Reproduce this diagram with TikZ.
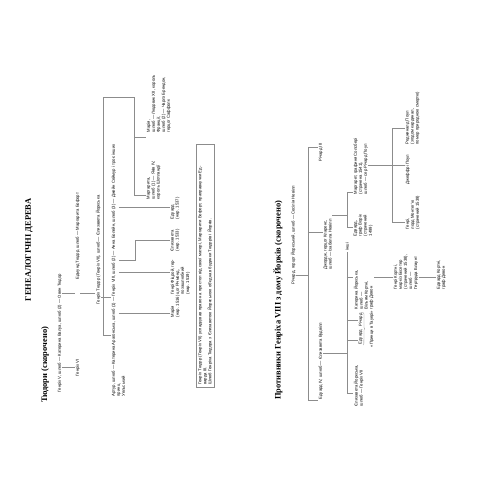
\documentclass[tikz,border=0pt]{standalone}
\usepackage{fontspec}
\setmainfont{Liberation Serif}
\setsansfont{Liberation Sans}
\usetikzlibrary{decorations.pathreplacing}

\tikzset{
  pers/.style={font=\sffamily\fontsize{6}{7.2}\selectfont, inner sep=0.8pt, align=left, anchor=north west},
  ttl/.style={font=\bfseries\fontsize{12}{14}\selectfont, inner sep=0pt},
  conn/.style={draw=black!45, line width=0.45pt}
}

\begin{document}
\begin{tikzpicture}[x=0.05cm, y=0.05cm, rotate=90, transform shape]
\useasboundingbox (0,0) rectangle (500,500);
% Titles
\node[ttl] (main) at (250,471) {ГЕНЕАЛОГІЧНІ ДЕРЕВА};
\node[ttl, anchor=west] (tud) at (97,455) {Тюдори (скорочено)};
\node[ttl, anchor=west] (york) at (100,222) {Противники Генріха VIII з дому Йорків (скорочено)};

% Tudors
\node[pers] (hv) at (107,443) {Генріх V, шлюб — Катерина Валуа, шлюб (2) — Овен Тюдор};
\node[pers] (hvi) at (123,425) {Генріх VI};
\node[pers] (edm) at (220,425) {Едмунд Тюдор, шлюб — Маргарита Бофорт};
\node[pers] (hvii) at (195,405) {Генріх Тюдор (Генріх VII), шлюб — Єлизавета Йоркська};
\node[pers] (hviii) at (103,389) {Артур, шлюб — Катерина Арагонська, шлюб (1) — Генріх VIII, шлюб (2) — Анна Болейн, шлюб (3) — Джейн Сеймур і троє інших\\принц\\Уельський};
\node[pers] (maryt) at (182,330) {Марія\\(нар. 1516)};
\node[pers] (fitz) at (205,330) {Генрі Фіцрой, гер-\\цог Річмонд,\\позашлюбний\\(нар. 1519)};
\node[pers] (eliz) at (248,330) {Єлизавета\\(нар. 1533)};
\node[pers] (edw) at (280,330) {Едуард\\(нар. 1537)};
\node[pers] (marg) at (300,354) {Маргарита,\\шлюб (1) — Яків IV,\\король Шотландії};
\node[pers] (marys) at (367,354) {Марія,\\шлюб — Людовик XII, король\\Франції,\\шлюб (2) — Чарлз Брендон,\\герцог Саффолк};
% note box
\node[pers, draw=black!45, line width=0.45pt, text width=11.9cm, inner sep=3pt] (note) at (113,304) {Генріх Тюдор (Генріх VII) успадкував право на престол від своєї матері, Маргарити Бофорт, праправнучки Ед-\\варда III.\\Шлюб Генріха Тюдора з Єлизаветою Йоркською об’єднав будинки Тюдорів і Йорків.};

\coordinate (c1) at (133,0);
\coordinate (c2) at (207,0);
\coordinate (c3) at (203,0);
\coordinate (bl) at (165,397);
\coordinate (br) at (403,397);
\coordinate (bd) at (403,366);
\coordinate (bm) at (363,366);
\coordinate (bg) at (305,366);
\coordinate (k1) at (187,381);
\coordinate (k2) at (228,381);
\coordinate (k3) at (240,381);
\coordinate (k3b) at (260,365);
\coordinate (k4) at (293,381);
% Edges
\draw[conn] (hv.south -| c1) -- (hvi.north -| c1);
\draw[conn] (hv.south -| c2) -- (edm.north -| c2);
\draw[conn] (edm.south -| c2) -- (hvii.north -| c2);
\draw[conn] (hvii.south -| c3) -- (hviii.north -| c3);
\draw[conn] (hviii.north -| bl) -- (bl) -- (br) -- (bd) -- (bg) -- (marg.north -| bg);
\draw[conn] (bm) -- (marys.north -| bm);
\draw[conn] (k1) -- (maryt.north -| k1);
\draw[conn] (k2) -- (fitz.north -| k2);
\draw[conn] (k3) -- (k3 |- k3b) -- (k3b) -- (eliz.north -| k3b);
\draw[conn] (k4) -- (edw.north -| k4);

% Yorks
\node[pers] (rich) at (215,210) {Річард, герцог Йоркський, шлюб — Сесілія Невілл};
\node[pers] (ediv) at (100,182) {Едуард IV, шлюб — Єлизавета Вудвілл};
\node[pers] (geo) at (230,177) {Джордж, герцог Кларенс,\\шлюб — Ізабелла Невілл};
\node[pers] (riii) at (338,182) {Річард III};
\node[pers] (eyork) at (93,147) {Єлизавета Йоркська,\\шлюб — Генріх VII};
\node[pers] (edv) at (155,142) {Едуард};
\node[pers] (rch) at (173,142) {Річард};
\node[pers] (kath) at (190,147) {Катерина Йоркська,\\шлюб —\\Вільям Кортні,\\граф Девон};
\node[pers, anchor=west] (oth) at (249,153) {інші};
\node[pers] (warw) at (263,147) {Едвард,\\граф Ворік\\(страчений\\1499)};
\node[pers] (sal) at (305,147) {Маргарет, графиня Солсбері\\(страчена 1541),\\шлюб — сер Річард Поул};
\node[pers] (hcou) at (210,107) {Генрі Кортні,\\маркіз Ексетер\\(страчений 1538),\\шлюб —\\Гертруда Блаунт};
\node[pers] (ecou) at (210,64) {Едвард Кортні,\\граф Девон};
\node[pers] (mont) at (270,95) {Генрі,\\лорд Монтег’ю\\(страчений 1539)};
\node[pers] (geof) at (315,95) {Джеффрі Поул};
\node[pers] (reg) at (355,95) {Реджиналд Поул\\(згодом кардинал,\\помер природною смертю)};
\node[pers, anchor=north] (tow) at (171,131) {«Принци в Тауері»};

\coordinate (y1) at (225,192);
\coordinate (yl) at (100,192);
\coordinate (yr) at (353,192);
\coordinate (yg) at (268,192);
\coordinate (e1) at (147,153);
\coordinate (el) at (107,153);
\coordinate (ee) at (160,153);
\coordinate (er) at (180,153);
\coordinate (ek) at (223,153);
\coordinate (eo) at (248,153);
\coordinate (g1) at (285,153);
\coordinate (gl) at (273,153);
\coordinate (gr) at (308,153);
\coordinate (p1) at (335,108);
\coordinate (pl) at (278,108);
\coordinate (pr) at (372,108);
\draw[conn] (rich.south -| y1) -- (y1);
\draw[conn] (ediv.north -| yl) -- (yl) -- (yr) -- (riii.north -| yr);
\draw[conn] (yg) -- (geo.north -| yg);
\draw[conn] (ediv.south -| e1) -- (e1);
\draw[conn] (eyork.north -| el) -- (el) -- (eo);
\draw[conn] (ee) -- (edv.north -| ee);
\draw[conn] (er) -- (rch.north -| er);
\draw[conn] (ek) -- (kath.north -| ek);
\draw[conn] (geo.south -| g1) -- (g1);
\draw[conn] (warw.north -| gl) -- (gl) -- (gr) -- (sal.north -| gr);
\draw[conn] (kath.south -| ek) -- (hcou.north -| ek);
\draw[conn] (hcou.south -| ek) -- (ecou.north -| ek);
\draw[conn] (sal.south -| p1) -- (geof.north -| p1);
\draw[conn] (mont.north -| pl) -- (pl) -- (pr) -- (reg.north -| pr);
\draw[conn, decorate, decoration={brace, mirror, amplitude=2pt}] (edv.south west) -- (rch.south east);
\end{tikzpicture}
\end{document}
